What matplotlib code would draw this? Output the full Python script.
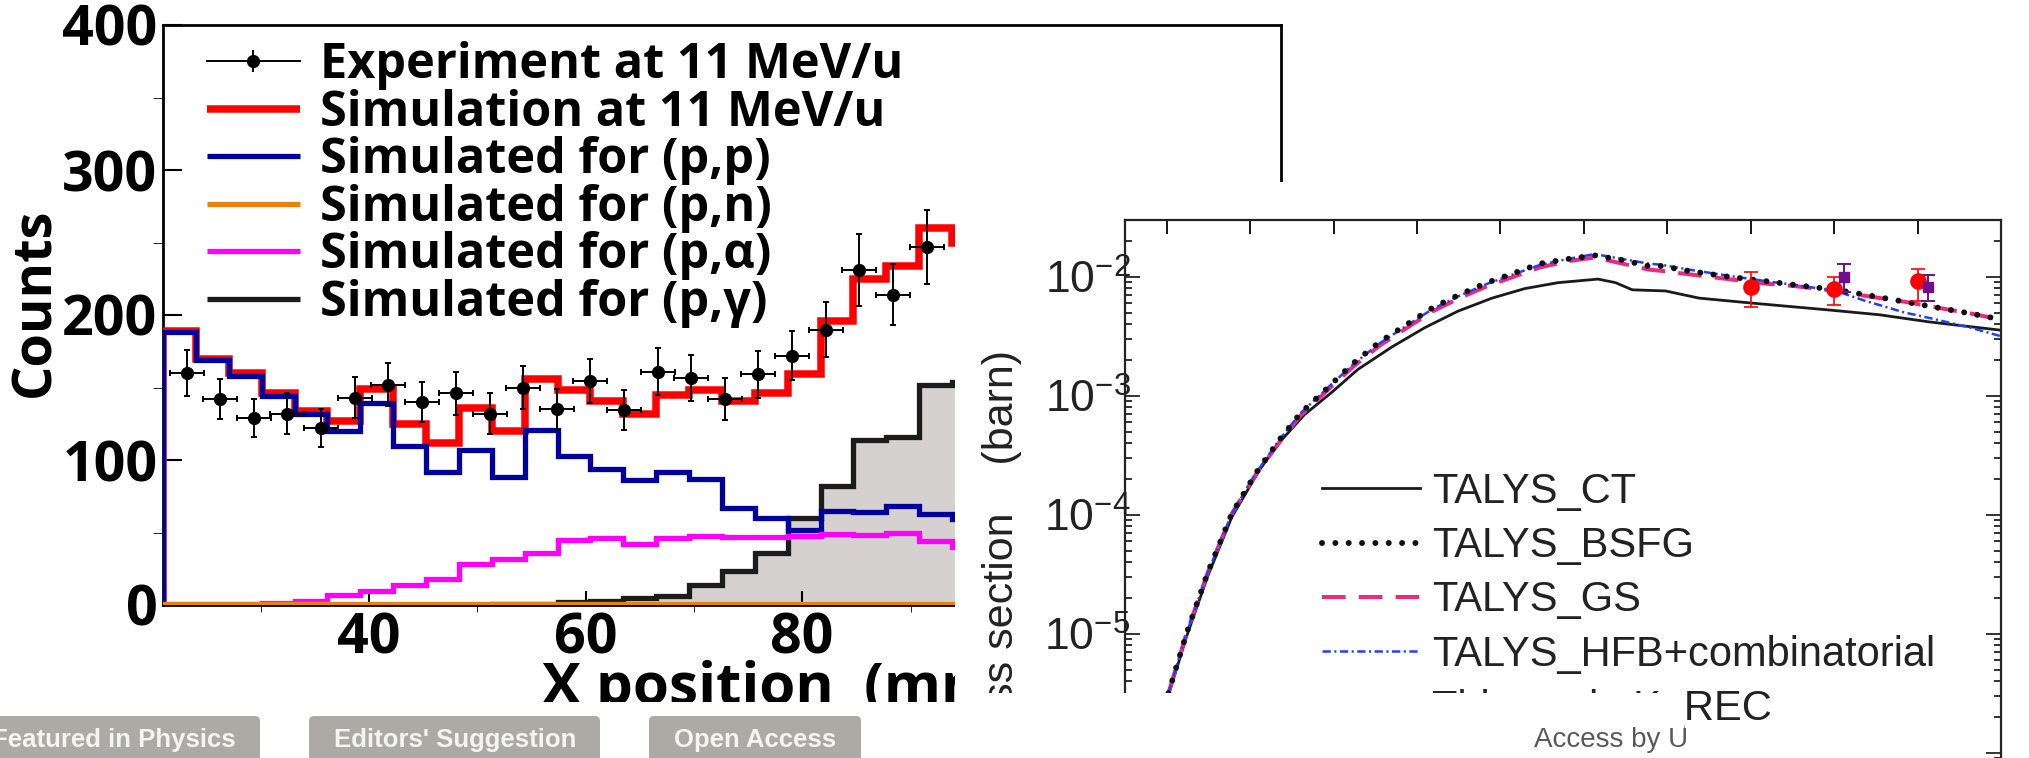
import numpy as np
import matplotlib
matplotlib.use("Agg")
import matplotlib.pyplot as plt
from matplotlib import font_manager
from matplotlib.patches import Rectangle, FancyBboxPatch
from matplotlib.lines import Line2D
from matplotlib.transforms import IdentityTransform


def pick_family(cands, min_weight=0):
    """first installed family from cands that has a face of at least min_weight"""
    for c in cands:
        for f in font_manager.fontManager.ttflist:
            w = f.weight
            if isinstance(w, str):
                w = font_manager.weight_dict.get(w, 400)
            if f.name == c and w >= min_weight:
                return c
    return cands[-1]


BOLD_FAM = pick_family(["Open Sans", "Noto Sans", "Roboto", "Lato", "DejaVu Sans"], 600)
NARROW_FAM = pick_family(["Liberation Sans Narrow", "Liberation Sans"])

plt.rcParams["font.family"] = [BOLD_FAM, "DejaVu Sans"]
plt.rcParams["mathtext.fontset"] = "custom"
plt.rcParams["mathtext.rm"] = "Liberation Sans"
plt.rcParams["mathtext.default"] = "rm"
plt.rcParams["lines.scale_dashes"] = False

W, H, DPI = 2029, 758, 100

# ---------------- left panel: counts vs X position ----------------
BIN_LO, BIN_W = 21.0, 3.035          # simulation histogram binning (mm)
sim_total = [189, 170, 160, 146, 134, 127, 149, 125, 112, 136, 120, 156, 148,
             141, 132, 145, 148, 141, 146, 159, 196, 225, 234, 260, 250]
sim_pp = [188, 169, 158, 144, 132, 120, 139, 110, 92, 107, 88, 121, 103,
          94, 86, 92, 87, 67, 60, 52, 65, 64, 68, 63, 59]
sim_pn = [0.5] * 25
sim_pa = [0.5, 0.5, 1, 1.5, 3, 7, 10, 14, 18, 28, 32, 36, 45,
          46, 42, 46, 47.5, 47, 47, 47.5, 49, 48, 50, 44, 40]
sim_pg = [0, 0, 0, 0, 0, 0, 0, 0, 0, 0, 1, 1, 2,
          3, 5, 6, 14, 23.5, 36, 60, 82, 114, 116, 152, 154]

exp_x = [23.22, 26.26, 29.40, 32.45, 35.59, 38.72, 41.77, 44.91, 48.05, 51.19,
         54.23, 57.37, 60.42, 63.56, 66.69, 69.74, 72.88, 75.92, 79.06, 82.20,
         85.25, 88.39, 91.53]
exp_y = [160, 142, 129, 132, 122, 143, 152, 140, 146, 132, 150, 135, 154.5,
         134.5, 161, 156.5, 142, 159, 172, 190, 231, 214, 247]
exp_yerr = [16, 14, 13, 14, 13, 14, 15, 14, 15, 14, 15, 14, 15.5, 14, 16.5,
            16, 14.5, 16.5, 17, 19, 25, 21, 25.5]
EXP_XERR = 1.55

left_labels = ["Experiment at 11 MeV/u", "Simulation at 11 MeV/u",
               "Simulated for (p,p)", "Simulated for (p,n)",
               "Simulated for (p,\u03b1)", "Simulated for (p,\u03b3)"]

# ---------------- right panel: cross section (barn) ----------------
x_model = [1.02, 1.24, 1.49, 1.78, 2.07, 2.34, 2.60, 2.92, 3.23, 3.55, 3.88,
           4.19, 4.51, 4.84, 5.16, 5.48, 5.81, 6.13, 6.46, 6.77, 6.93, 7.25,
           7.73, 8.21, 8.54, 9.02, 9.36, 9.84, 10.16, 10.64, 11.0]
talys_bsfg = [3.16e-6, 1.02e-5, 3.24e-5, 1.02e-4, 2.24e-4, 4.17e-4, 7.08e-4,
              1.15e-3, 1.86e-3, 2.82e-3, 3.98e-3, 5.50e-3, 7.08e-3, 8.91e-3,
              1.07e-2, 1.29e-2, 1.41e-2, 1.51e-2, 1.38e-2, 1.23e-2, 1.23e-2,
              1.12e-2, 1.00e-2, 9.12e-3, 8.51e-3, 7.76e-3, 7.08e-3, 6.17e-3,
              5.62e-3, 4.90e-3, 4.37e-3]
talys_gs = [3.16e-6, 1.02e-5, 3.24e-5, 1.02e-4, 2.19e-4, 3.98e-4, 6.76e-4,
            1.10e-3, 1.74e-3, 2.63e-3, 3.72e-3, 5.13e-3, 6.61e-3, 8.32e-3,
            1.00e-2, 1.20e-2, 1.35e-2, 1.45e-2, 1.29e-2, 1.15e-2, 1.12e-2,
            1.05e-2, 9.55e-3, 8.71e-3, 8.32e-3, 7.59e-3, 6.92e-3, 6.17e-3,
            5.62e-3, 4.90e-3, 4.37e-3]
talys_hfb = [3.16e-6, 1.02e-5, 3.24e-5, 1.02e-4, 2.24e-4, 4.17e-4, 7.08e-4,
             1.15e-3, 1.82e-3, 2.75e-3, 3.89e-3, 5.37e-3, 6.92e-3, 8.71e-3,
             1.05e-2, 1.26e-2, 1.41e-2, 1.55e-2, 1.41e-2, 1.29e-2, 1.26e-2,
             1.15e-2, 1.02e-2, 9.12e-3, 8.51e-3, 7.59e-3, 6.31e-3, 5.01e-3,
             4.47e-3, 3.72e-3, 3.16e-3]
x_ct = [1.02, 1.24, 1.49, 1.78, 2.115, 2.38, 2.65, 2.98, 3.29, 3.70, 4.09,
        4.49, 4.90, 5.29, 5.69, 6.17, 6.38, 6.58, 6.98, 7.38, 7.98, 8.94,
        9.54, 10.14, 11.0]
talys_ct = [3.02e-6, 9.55e-6, 3.02e-5, 9.55e-5, 2.40e-4, 4.27e-4, 6.92e-4,
            1.07e-3, 1.66e-3, 2.57e-3, 3.72e-3, 5.13e-3, 6.61e-3, 7.94e-3,
            8.91e-3, 9.55e-3, 8.91e-3, 7.76e-3, 7.59e-3, 6.61e-3, 6.03e-3,
            5.25e-3, 4.79e-3, 4.17e-3, 3.55e-3]
krec_x = [8, 9, 10]
krec_y = [8.24e-3, 7.90e-3, 9.20e-3]
krec_lo = [5.56e-3, 5.75e-3, 6.31e-3]
krec_hi = [1.10e-2, 1.00e-2, 1.17e-2]
other_x = [9.12, 10.12]
other_y = [1.00e-2, 8.20e-3]
other_lo = [7.50e-3, 6.20e-3]
other_hi = [1.29e-2, 1.04e-2]
right_labels = ["TALYS_CT", "TALYS_BSFG", "TALYS_GS",
                "TALYS_HFB+combinatorial", "This work, K_REC"]
yticks_r = [1e-7, 1e-6, 1e-5, 1e-4, 1e-3, 1e-2]
ytick_labels_r = [r"$10^{-7}$", r"$10^{-6}$", r"$10^{-5}$", r"$10^{-4}$",
                  r"$10^{-3}$", r"$10^{-2}$"]

badges = ["Featured in Physics", "Editors' Suggestion", "Open Access"]


def fbox(x0, y0, x1, y1):
    """pixel box (origin top-left) -> figure fraction rect"""
    return [x0 / W, 1 - y1 / H, (x1 - x0) / W, (y1 - y0) / H]


PIX = IdentityTransform()


def P(px, py):
    return px, H - py


fig = plt.figure(figsize=(W / DPI, H / DPI), dpi=DPI)

# ======================= left chart =======================
ax1 = fig.add_axes(fbox(163, 25, 1281, 605))
ax1.set_zorder(1)
edges = BIN_LO + BIN_W * np.arange(len(sim_total) + 1)
ax1.stairs(sim_pg, edges, fill=True, color="#d5d1d1", zorder=1)
ax1.stairs(sim_pg, edges, color="#1c1c1c", lw=3.8, zorder=2)
ax1.stairs(sim_total, edges, color="#ff0000", lw=5.4, zorder=3)
ax1.stairs(sim_pp, edges, color="#00009c", lw=3.8, zorder=4)
ax1.stairs(sim_pa, edges, color="#ff00ff", lw=3.8, zorder=5)
ax1.stairs(sim_pn, edges, color="#e8820c", lw=3.8, zorder=6)
ax1.errorbar(exp_x, exp_y, yerr=exp_yerr, xerr=EXP_XERR, fmt="o", color="black",
             ms=8.5, elinewidth=1.4, capsize=2.5, capthick=1.4, zorder=7)

ax1.set_xlim(21.0, 124.2)
ax1.set_ylim(0, 400)
ax1.set_xticks([40, 60, 80, 100, 120])
ax1.set_xticks(np.arange(30, 125, 10), minor=True)
ax1.set_yticks([0, 100, 200, 300, 400])
ax1.set_yticks([50, 150, 250, 350], minor=True)
for s in ax1.spines.values():
    s.set_linewidth(2.0)
ax1.tick_params(direction="in", top=False, right=False, width=1.5,
                labelsize=40)
ax1.tick_params(axis="y", which="major", length=14, pad=4)
ax1.tick_params(axis="y", which="minor", length=7)
ax1.tick_params(axis="x", which="major", length=10, pad=5)
ax1.tick_params(axis="x", which="minor", length=5)
for lab in ax1.get_xticklabels() + ax1.get_yticklabels():
    lab.set_fontweight("bold")

fig.text(35 / W, 1 - 302 / H, "Counts", rotation=90, ha="center", va="center",
         fontsize=39, fontweight="bold", zorder=1.5)
fig.text(542 / W, 1 - 704 / H, "X position  (mm)", ha="left", va="baseline",
         fontsize=42, fontweight="bold", zorder=1.5)

# legend of the left chart (drawn row by row, rows are very tight)
row0, dy = 61, 47.6
leg_styles = [None,
              dict(color="#ff0000", lw=5.4),
              dict(color="#00009c", lw=3.8),
              dict(color="#e8820c", lw=3.8),
              dict(color="#ff00ff", lw=3.8),
              dict(color="#1c1c1c", lw=3.8)]
for i, (lab, st) in enumerate(zip(left_labels, leg_styles)):
    yc = row0 + i * dy
    if st is None:
        fig.add_artist(Line2D([207, 300], [H - yc] * 2, transform=PIX,
                              color="black", lw=1.4, zorder=1.6))
        fig.add_artist(Line2D([253, 253], [H - yc - 10, H - yc + 10], transform=PIX,
                              color="black", lw=1.4, zorder=1.6))
        fig.add_artist(Line2D([253], [H - yc], transform=PIX, marker="o", ms=8.5,
                              color="black", zorder=1.6))
    else:
        fig.add_artist(Line2D([207, 300], [H - yc] * 2, transform=PIX,
                              solid_capstyle="butt", zorder=1.6, **st))
    fig.text(320, H - yc - 17, lab, transform=PIX, ha="left", va="baseline",
             fontsize=35, fontweight="bold", zorder=1.6)

# ======================= right chart =======================
fig.add_artist(Rectangle(P(955, 758), W - 955, 758 - 182, transform=PIX,
                         facecolor="white", edgecolor="none", zorder=2))

ax2 = fig.add_axes(fbox(1125, 220, 2001, 900))
ax2.set_zorder(3)
ax2.set_yscale("log")
ax2.set_xlim(0.5, 11.0)
ax2.set_ylim(5.78e-8, 2.996e-2)
l_ct, = ax2.plot(x_ct, talys_ct, color="#1a1a1a", lw=2.0, zorder=2)
l_gs, = ax2.plot(x_model, talys_gs, color="#f0287e", lw=2.9, ls=(0, (17, 9.5)),
                 zorder=3)
l_hfb, = ax2.plot(x_model, talys_hfb, color="#2040ff", lw=1.8,
                  ls=(0, (6, 2.5, 1.5, 2.5)), zorder=4)
l_bsfg, = ax2.plot(x_model, talys_bsfg, color="#111111", lw=4.3,
                   ls=(0, (0.01, 9.6)), dash_capstyle="round", zorder=5)
ax2.errorbar(krec_x, krec_y,
             yerr=[np.subtract(krec_y, krec_lo), np.subtract(krec_hi, krec_y)],
             fmt="o", color="#ff0000", ms=11, elinewidth=1.2, capsize=5,
             capthick=1.2, zorder=6)
ax2.errorbar(other_x, other_y,
             yerr=[np.subtract(other_y, other_lo), np.subtract(other_hi, other_y)],
             fmt="s", color="#6e0f8c", ms=7, elinewidth=1.4, capsize=5,
             capthick=1.4, zorder=6)
h_krec = Line2D([], [], ls="none", marker="o", ms=9, color="#ff0000")

ax2.set_xticks(np.arange(1, 12))
ax2.tick_params(axis="x", which="both", direction="in", top=True, bottom=True,
                labelbottom=False, labeltop=False, length=10, width=1.3)
ax2.minorticks_off()
ax2.set_yticks(yticks_r, labels=ytick_labels_r)
ax2.yaxis.set_minor_locator(matplotlib.ticker.LogLocator(base=10, subs=np.arange(2, 10)))
ax2.yaxis.set_minor_formatter(matplotlib.ticker.NullFormatter())
ax2.tick_params(axis="y", which="both", direction="in", left=True, right=True,
                width=1.3, labelsize=32, pad=-4, colors="#222222")
ax2.tick_params(axis="y", which="major", length=10.5)
ax2.tick_params(axis="y", which="minor", length=5)
for s in ax2.spines.values():
    s.set_linewidth(1.6)
    s.set_color("#222222")

ax2.legend([l_ct, l_bsfg, l_gs, l_hfb, h_krec], right_labels, loc="upper left",
           bbox_to_anchor=P(1322, 472), bbox_transform=PIX, frameon=False,
           prop={"family": "Liberation Sans", "size": 30}, borderpad=0,
           borderaxespad=0, handlelength=2.35, handletextpad=0.29,
           labelspacing=0.34, labelcolor="#222222")

fig.text(1002, H - 350, "Cross section    (barn)", transform=PIX, rotation=90,
         ha="center", va="top", fontsize=31, family="Liberation Sans",
         color="#222222", zorder=4)

# ======================= page overlays =======================
fig.add_artist(Rectangle(P(0, 758), 955, 758 - 702, transform=PIX,
                         facecolor="white", edgecolor="none", zorder=5))
fig.add_artist(Rectangle(P(955, 758), 1684 - 955, 758 - 693, transform=PIX,
                         facecolor="white", edgecolor="none", zorder=5))
fig.text(1611, H - 740, "Access by U", transform=PIX, ha="center", va="center",
         fontsize=20, family=NARROW_FAM, color="#5a5a5a", zorder=7)

badge_boxes = [(-30, 260), (309, 600), (649, 861)]
for name, (bx0, bx1) in zip(badges, badge_boxes):
    fig.add_artist(FancyBboxPatch(P(bx0, 800), bx1 - bx0, 800 - 716, transform=PIX,
                                  boxstyle="round,pad=0,rounding_size=5",
                                  facecolor="#abaaa5", edgecolor="none", zorder=6))
badge_text_x = [(236, "right"), (455, "center"), (755, "center")]
for name, (tx, ha) in zip(badges, badge_text_x):
    fig.text(tx, H - 740, name, transform=PIX, ha=ha, va="center", fontsize=18.5,
             family=NARROW_FAM, fontweight="bold", color="#f4f4f2", zorder=7)

fig.savefig("out.png", dpi=DPI)
